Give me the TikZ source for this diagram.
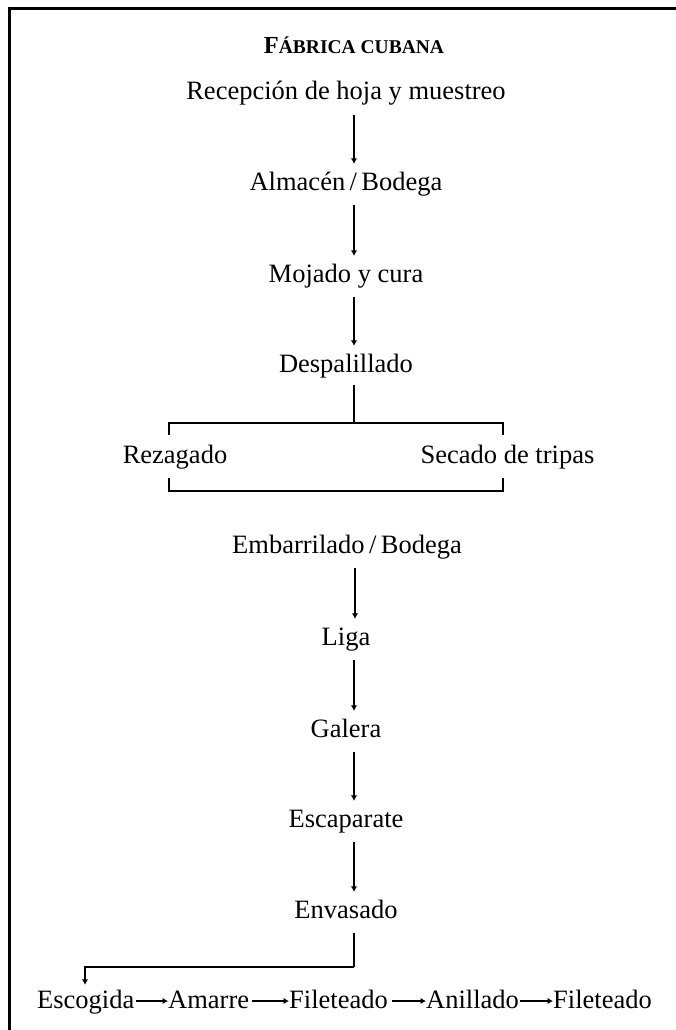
\documentclass[tikz,border=0pt]{standalone}
\usepackage{fontspec}
\setmainfont{Liberation Serif}
\usetikzlibrary{arrows.meta,calc}
\newcommand{\fsc}[1]{{\fontsize{19.5}{22}\selectfont #1}}
\tikzset{
  lbl/.style={inner sep=0pt, text height=17pt, text depth=6pt, anchor=base, font=\fontsize{26.5}{30}\selectfont},
  arr/.style={line width=1.2pt, -{Latex[length=5.5pt,width=6.5pt]}},
  ln/.style={line width=1.2pt},
  frame/.style={line width=2.6pt}
}
\begin{document}
\begin{tikzpicture}[x=1pt,y=-1pt]
\useasboundingbox (0,0) rectangle (675,1030);
% frame (left and top only)
\draw[frame] (9.5,1040) -- (9.5,8.7) -- (690,8.7);
% title
\node[lbl, font=\fontsize{24.5}{28}\selectfont\bfseries] (title) at (354,54) {F\fsc{ÁBRICA CUBANA}};
% main column
\node[lbl] (rec) at (346,100) {Recepción de hoja y muestreo};
\node[lbl] (alm) at (346,190) {Almacén\,/\,Bodega};
\node[lbl] (moj) at (346,282) {Mojado y cura};
\node[lbl] (des) at (346,372) {Despalillado};
\node[lbl] (rez) at (175,463) {Rezagado};
\node[lbl] (sec) at (507.5,463) {Secado de tripas};
\node[lbl] (emb) at (347,553) {Embarrilado\,/\,Bodega};
\node[lbl] (lig) at (346,645) {Liga};
\node[lbl] (gal) at (346,737) {Galera};
\node[lbl] (esc) at (346,827) {Escaparate};
\node[lbl] (env) at (346,918) {Envasado};
% bottom row
\node[lbl, anchor=base west] (esg) at (37,1008) {Escogida};
\node[lbl, anchor=base west] (ama) at (168,1008) {Amarre};
\node[lbl, anchor=base west] (fi1) at (289,1008) {Fileteado};
\node[lbl, anchor=base west] (ani) at (426,1008) {Anillado};
\node[lbl, anchor=base west] (fi2) at (553,1008) {Fileteado};
% vertical arrows
\foreach \a/\b in {rec/alm, alm/moj, moj/des, emb/lig, lig/gal, gal/esc, esc/env}{
  \draw[arr, shorten <=9pt, shorten >=9pt] ([xshift=8pt]\a.south) -- ([xshift=8pt]\a.south |- \b.north);
}
% bracket around Rezagado / Secado de tripas
\coordinate (bl) at (169,423);
\coordinate (br) at (503,423);
\draw[ln] ([xshift=8pt,yshift=-7pt]des.south) -- ([xshift=8pt]des.south |- bl);
\draw[ln] ([yshift=-12pt]bl) -- (bl) -- (br) -- ([yshift=-12pt]br);
\coordinate (bbl) at (169,491);
\coordinate (bbr) at (503,491);
\draw[ln] ([yshift=13pt]bbl) -- (bbl) -- (bbr) -- ([yshift=13pt]bbr);
% Envasado to Escogida
\coordinate (turn) at (354,967);
\draw[ln] ([xshift=8pt,yshift=-9pt]env.south) -- (turn);
\draw[arr, shorten >=6pt] (turn) -- (85,967) -- (85,967 |- esg.north);
% horizontal arrows
\foreach \a/\b/\g in {esg/ama/1, ama/fi1/3, fi1/ani/4, ani/fi2/1}{
  \draw[arr, shorten <=\g pt] ([yshift=7pt]\a.base east) -- ([yshift=7pt]\b.base west);
}
\end{tikzpicture}
\end{document}
